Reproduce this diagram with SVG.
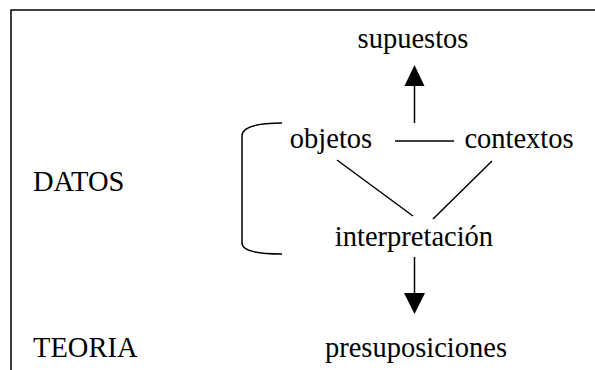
<svg xmlns="http://www.w3.org/2000/svg" width="595" height="370" viewBox="0 0 595 370">
<defs>
<style>
text{font-family:"Liberation Serif","Times New Roman",serif;font-size:28.5px;fill:#000}
.ln{stroke:#000;stroke-width:1.5;fill:none}
.ah{fill:#000;stroke:none}
</style>
</defs>
<rect width="595" height="370" fill="#fff"/>
<g id="frame"><path class="ln" d="M11,370 V10 H595"/></g>
<g id="supuestos"><text x="413" y="48" text-anchor="middle">supuestos</text></g>
<g id="objetos"><text x="331" y="148" text-anchor="middle">objetos</text></g>
<g id="contextos"><text x="519" y="148" text-anchor="middle">contextos</text></g>
<g id="datos"><text x="33" y="191">DATOS</text></g>
<g id="interpretacion"><text x="414" y="246" text-anchor="middle">interpretación</text></g>
<g id="teoria"><text x="33" y="357">TEORIA</text></g>
<g id="presuposiciones"><text x="416" y="357" text-anchor="middle">presuposiciones</text></g>
<g id="connectors">
<path class="ln" d="M282,123 C258,123 242,126 242,136 V243 C242,251 258,254 282,254"/>
<line class="ln" x1="414.5" y1="123" x2="414.5" y2="84"/>
<polygon class="ah" points="414.5,65 404.5,86 424.5,86"/>
<line class="ln" x1="395" y1="141" x2="454" y2="141"/>
<line class="ln" x1="337" y1="160" x2="413" y2="216"/>
<line class="ln" x1="492" y1="161" x2="433" y2="219"/>
<line class="ln" x1="414.5" y1="257" x2="414.5" y2="295"/>
<polygon class="ah" points="404,293 425,293 414.5,314"/>
</g>
</svg>
